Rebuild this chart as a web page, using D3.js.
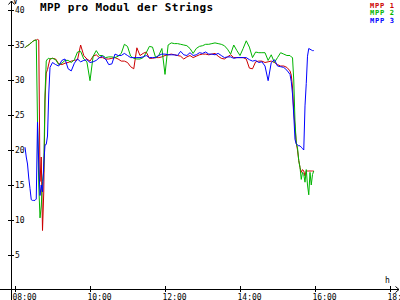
<!DOCTYPE html>
<html>
<head>
<meta charset="utf-8">
<script src="https://cdn.jsdelivr.net/npm/d3@7"></script>
<style>
  body { margin: 0; background: #fff; }
  svg { display: block; }
</style>
</head>
<body>
<div class="content"></div>
<script>
// sample times (denser where the voltages change fast)
const times = [
  '08:16','08:18','08:20','08:22','08:24','08:26','08:28','08:30','08:32','08:34','08:36',
  '08:38','08:40','08:42','08:44','08:46','08:48','08:50','08:52','08:54','08:56',
  '09:00','09:05','09:10','09:15','09:20','09:25','09:30','09:35','09:40','09:45','09:50','09:55',
  '10:00','10:05','10:10','10:15','10:20','10:25','10:30','10:35','10:40','10:45','10:50','10:55',
  '11:00','11:05','11:10','11:15','11:20','11:25','11:30','11:35','11:40','11:45','11:50','11:55',
  '12:00','12:05','12:10','12:15','12:20','12:25','12:30','12:35','12:40','12:45','12:50','12:55',
  '13:00','13:05','13:10','13:15','13:20','13:25','13:30','13:35','13:40','13:45','13:50','13:55',
  '14:00','14:05','14:10','14:15','14:20','14:25','14:30','14:35','14:40','14:45','14:50','14:55',
  '15:00','15:05','15:10','15:15','15:20',
  '15:22','15:24','15:26','15:28','15:30','15:32','15:34','15:36','15:38','15:40',
  '15:42','15:44','15:46','15:48','15:50','15:52','15:54','15:56','15:58'
]

const mpp1 = [
  34.6,34.8,34.9,35.0,35.2,35.3,35.5,35.6,35.7,35.7,35.8,
  35.7,15.5,19.0,8.5,14.0,27.0,31.0,31.5,32.3,33.0,
  33.1,33.0,32.3,32.2,32.4,32.5,32.7,32.8,32.9,35.0,
  33.5,33.0,32.7,33.4,33.6,33.2,33.2,33.0,33.0,33.1,
  33.2,33.0,32.7,32.7,32.5,31.9,31.6,34.6,33.5,33.8,
  34.0,33.1,33.1,33.2,33.2,33.3,33.5,33.6,33.7,33.6,
  33.5,33.4,33.0,33.3,33.5,33.2,33.4,33.6,33.7,33.7,
  33.6,33.7,33.8,33.4,33.1,33.0,33.3,33.6,33.2,33.2,
  33.2,33.2,33.0,31.7,31.6,32.6,32.7,32.7,32.5,32.6,
  32.7,32.5,32.2,32.0,32.0,31.8,31.3,
  30.7,29.0,25.5,23.4,21.0,20.0,18.5,17.5,16.8,17.2,
  17.0,16.3,17.0,17.0,17.0,17.0,17.0,17.0,17.0
]

const mpp2 = [
  34.6,34.8,34.9,35.0,35.2,35.3,35.5,35.6,35.7,35.7,24.0,
  15.0,10.3,12.0,15.5,17.0,28.0,32.7,33.0,33.1,33.0,
  33.1,32.9,32.2,32.4,32.8,32.8,32.5,32.9,34.0,34.1,
  33.0,32.6,29.9,33.4,34.2,33.5,33.5,33.2,33.3,33.3,
  33.2,33.4,33.8,35.1,34.8,33.4,33.1,33.0,33.0,33.2,
  33.9,34.8,34.7,33.2,33.5,34.5,30.8,35.0,35.3,35.2,
  35.2,35.1,35.0,34.9,34.5,33.8,34.5,34.8,34.9,35.1,
  35.1,35.2,35.3,35.2,35.1,34.9,34.4,33.7,35.0,34.2,
  33.5,34.5,35.6,34.7,33.2,34.0,33.9,33.9,33.9,32.8,
  33.6,32.5,33.2,33.9,33.7,33.5,33.5,
  33.3,33.2,30.0,24.0,21.0,20.3,18.5,17.5,15.8,16.8,
  16.5,15.4,17.2,15.0,13.6,16.8,15.0,16.5,17.0
]

const mpp3 = [
  20.4,19.0,18.0,16.0,14.5,12.9,12.8,12.8,12.8,13.0,24.0,
  18.0,13.5,15.0,14.0,18.0,20.7,20.8,22.0,28.0,31.8,
  32.5,32.2,32.0,32.8,33.0,31.6,31.3,32.4,33.0,32.6,
  32.8,32.9,32.5,32.6,32.8,33.2,33.4,33.0,32.2,32.3,
  33.7,33.5,33.5,33.8,33.5,33.2,33.2,33.2,33.2,33.3,
  33.5,33.2,33.2,33.2,33.5,33.7,33.7,33.6,33.6,33.6,
  33.5,34.1,33.6,33.5,33.9,33.5,33.6,33.9,33.8,34.0,
  33.7,33.7,33.6,33.8,33.5,33.2,33.3,33.3,33.1,33.2,
  33.2,33.2,33.2,32.9,32.7,32.8,32.5,32.6,32.0,29.9,
  32.5,32.9,32.0,31.9,31.8,31.4,30.8,
  29.8,28.0,25.0,21.5,20.9,20.7,20.6,20.6,20.4,20.2,
  20.0,26.3,29.5,33.4,34.5,34.4,34.3,34.2,34.2
]

const seriesNames = ['MPP 1', 'MPP 2', 'MPP 3']
const seriesColors = ['#cc0000', '#00b400', '#0000ff']
const yTicks = [5, 10, 15, 20, 25, 30, 35, 40]
const xTicks = ['08:00', '10:00', '12:00', '14:00', '16:00', '18:00']

const width = 400
const height = 300
const mono = '"DejaVu Sans Mono", "Liberation Mono", monospace'
const parse = d3.timeParse('%H:%M')

const x = d3.scaleTime()
    .domain([parse('08:00'), parse('18:00')])
    .range([15, 390])
const y = d3.scaleLinear()
    .domain([0, 40])
    .range([290, 10])

const svg = d3.select('div.content')
    .append('svg')
    .attr('width', width)
    .attr('height', height)
    .style('background', '#fff')

// y axis
const yAxis = svg.append('g')
    .attr('transform', 'translate(11,0)')
    .call(d3.axisRight(y).tickValues(yTicks).tickSize(3).tickFormat(d3.format('d')))
yAxis.select('.domain').remove()
yAxis.selectAll('.tick line').attr('x1', -3).attr('stroke', '#000')
yAxis.selectAll('.tick text')
    .attr('x', 4)
    .attr('dy', '0.34em')
    .attr('fill', '#000')
    .style('font', '8px ' + mono)

// x axis
const xAxis = svg.append('g')
    .attr('transform', 'translate(0,289)')
    .call(d3.axisBottom(x).tickValues(xTicks.map(parse)).tickSize(3).tickFormat(d3.timeFormat('%H:%M')))
xAxis.select('.domain').remove()
xAxis.selectAll('.tick line').attr('y1', -3).attr('stroke', '#000')
xAxis.selectAll('.tick text')
    .attr('x', -3)
    .attr('y', 10.5)
    .attr('dy', 0)
    .attr('text-anchor', 'start')
    .attr('fill', '#000')
    .style('font', '8px ' + mono)

// axis lines with arrows
const axes = svg.append('g')
    .attr('stroke', '#000')
    .attr('fill', 'none')
    .attr('shape-rendering', 'crispEdges')
axes.append('line').attr('x1', 11.5).attr('x2', 11.5).attr('y1', 1).attr('y2', 300)
axes.append('line').attr('x1', 0).attr('x2', 399).attr('y1', 289.5).attr('y2', 289.5)
svg.append('polyline')
    .attr('points', '8.5,4.5 11.5,1 14.5,4.5')
    .attr('stroke', '#000').attr('fill', 'none')
svg.append('polyline')
    .attr('points', '395.5,286.5 399,289.5 395.5,292.5')
    .attr('stroke', '#000').attr('fill', 'none')

svg.append('text').attr('x', 13).attr('y', 4).text('V')
    .style('font', '8px ' + mono)
svg.append('text').attr('x', 385).attr('y', 283).text('h')
    .style('font', '8px ' + mono)

// title
svg.append('text')
    .attr('x', 40)
    .attr('y', 11)
    .attr('textLength', 173)
    .style('font', 'bold 11px ' + mono)
    .text('MPP pro Modul der Strings')

// lines
const line = d3.line()
    .x((d, i) => x(parse(times[i])))
    .y(d => y(d))

const series = [mpp1, mpp2, mpp3]
series.forEach((vals, s) => {
  svg.append('path')
      .datum(vals)
      .attr('d', line)
      .attr('fill', 'none')
      .attr('stroke', seriesColors[s])
      .attr('stroke-width', 1)
})

// legend
svg.selectAll('text.legend')
    .data(seriesNames)
    .join('text')
    .attr('class', 'legend')
    .attr('x', 370)
    .attr('y', (d, i) => 7.5 + i * 7.5)
    .attr('textLength', 24)
    .attr('fill', (d, i) => seriesColors[i])
    .style('font', 'bold 7px ' + mono)
    .text(d => d)
</script>
</body>
</html>
